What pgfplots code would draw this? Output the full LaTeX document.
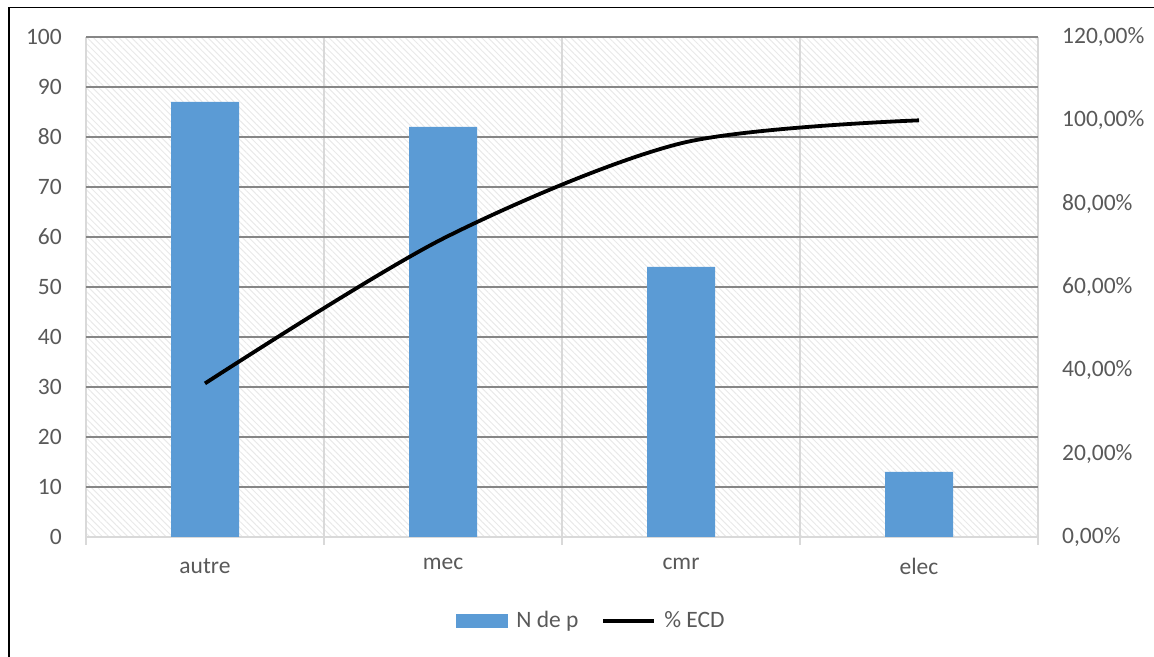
\documentclass[border=0pt]{standalone}
\usepackage{pgfplots}
\pgfplotsset{compat=1.18}
\usepackage{fontspec}
\setmainfont{Carlito}
\usetikzlibrary{patterns.meta}
\definecolor{barblue}{HTML}{5B9BD5}
\definecolor{txt}{HTML}{595959}
\definecolor{gridd}{HTML}{868686}
\definecolor{gridl}{HTML}{D9D9D9}
\newcommand{\chartfont}{\fontsize{23.5bp}{28bp}\selectfont}
\pgfplotsset{
  barlegend/.style={legend image code/.code={\fill[##1] (0bp,-7bp) rectangle (52bp,7bp);}},
  linelegend/.style={legend image code/.code={\draw[##1] (0bp,0bp) -- (51bp,0bp);}},
}

\begin{document}
\chartfont
\begin{tikzpicture}
\useasboundingbox (0,0) rectangle (1154bp,657bp);
% outer chart frame
\draw[line width=1.6bp] (8.8bp,-10bp) |- (1170bp,649.5bp);

% bars: number of items per category
\begin{axis}[
  at={(86bp,120bp)}, anchor=south west,
  scale only axis, width=952bp, height=500bp,
  xmin=-0.5, xmax=3.5, ymin=0, ymax=100,
  enlargelimits=false,
  ytick={0,10,...,100},
  xtick={0,1,2,3}, xticklabels={autre,mec,cmr,elec},
  minor xtick={-0.5,0.5,1.5,2.5,3.5},
  xminorgrids, ymajorgrids,
  minor grid style={gridl, line width=1.3bp},
  major grid style={gridd, line width=1.3bp},
  axis x line*=bottom, axis y line*=left,
  x axis line style={gridl, line width=1.3bp, -},
  y axis line style={draw=none},
  tick align=outside,
  major tick length=0pt, minor tick length=8bp,
  minor tick style={gridl, line width=1.3bp},
  ticklabel style={font=\chartfont, text=txt, inner sep=0pt},
  /pgf/number format/assume math mode=true,
  yticklabel shift=24bp, xticklabel shift=21bp,
  axis background/.style={pattern={Lines[angle=-45,distance=4.5bp,line width=1bp]}, pattern color=gray!17},
  ybar, bar width=68bp,
]
\addplot[fill=barblue, draw=none] coordinates {(0,87) (1,82) (2,54) (3,13)};
\end{axis}

% cumulative percentage
\begin{axis}[
  at={(86bp,120bp)}, anchor=south west,
  scale only axis, width=952bp, height=500bp,
  xmin=-0.5, xmax=3.5, ymin=0, ymax=120,
  enlargelimits=false,
  axis x line=none, axis y line*=right,
  y axis line style={draw=none},
  ytick={0,20,...,120},
  yticklabels={{0,00\%},{20,00\%},{40,00\%},{60,00\%},{80,00\%},{100,00\%},{120,00\%}},
  major tick length=0pt,
  ticklabel style={font=\chartfont, text=txt, inner sep=0pt},
  yticklabel shift=24bp,
  legend style={at={(0.531,-0.168)}, anchor=center, draw=none, fill=none,
    legend columns=2, font=\chartfont, text=txt,
    /tikz/every odd column/.append style={column sep=6bp},
    /tikz/every even column/.append style={column sep=21bp}},
  legend cell align=left,
]
\addlegendimage{fill=barblue, draw=none, barlegend}
\addlegendentry{N de p}
\addplot[black, line width=3.8bp, smooth, linelegend]
  coordinates {(0,36.86) (1,71.61) (2,94.49) (3,100)};
\addlegendentry{\% ECD}
\end{axis}
\end{tikzpicture}
\end{document}
